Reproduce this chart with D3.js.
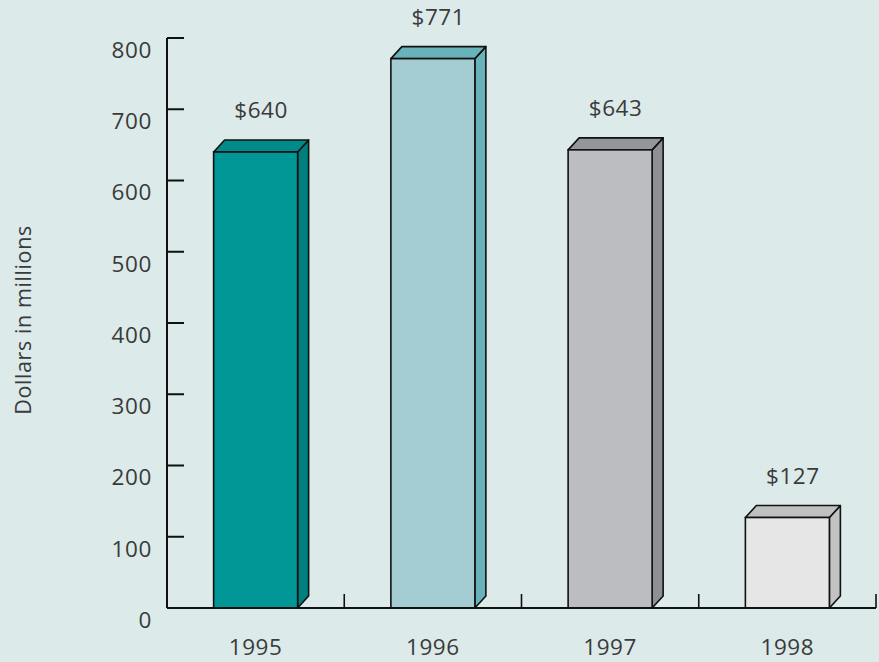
<!DOCTYPE html>
<html><head><meta charset="utf-8">
<script src="https://cdn.jsdelivr.net/npm/d3@7"></script>
<style>
html,body{margin:0;padding:0;background:#dceaea;}
svg{display:block;}
text{font-family:"Open Sans",sans-serif;fill:#3a3a3a;letter-spacing:0.6px;}
</style></head>
<body>
<svg id="chart" width="879" height="662"></svg>
<script>
const categories = ["1995","1996","1997","1998"];
const values = [640, 771, 643, 127];
const valueLabels = ["$640","$771","$643","$127"];
const yTicks = [0,100,200,300,400,500,600,700,800];
const frontColors = ["#009696","#a3cdd3","#bcbdc0","#e6e6e6"];
const topColors = ["#008a8a","#68b3b9","#95969a","#c0c0c0"];
const sideColors = ["#007f7f","#68b3b9","#8f9094","#c3c3c3"];
const yTitle = "Dollars in millions";

const svg = d3.select("#chart");
const x0 = 167, x1 = 876, yBase = 608, yTop = 38;
const x = d3.scaleBand().domain(categories).range([x0, x1]).paddingInner(0).paddingOuter(0);
const y = d3.scaleLinear().domain([0, 800]).range([yBase, yTop]);
const dx = 11, dy = 12, barW = 84;
const fs = 22.5;

// y axis
svg.append("line").attr("x1", x0).attr("x2", x0).attr("y1", y(800)).attr("y2", y(0))
  .attr("stroke", "#111").attr("stroke-width", 2);
svg.selectAll(".yt").data(yTicks).join("line")
  .attr("x1", x0).attr("x2", x0 + 17).attr("y1", d => y(d)).attr("y2", d => y(d))
  .attr("stroke", "#111").attr("stroke-width", 2);
svg.selectAll(".yl").data(yTicks).join("text")
  .attr("x", 152).attr("y", d => y(d) + 12).attr("dy", "0.35em")
  .attr("text-anchor", "end").attr("font-size", fs).text(d => d);

svg.append("text").attr("transform", "translate(31,320) rotate(-90)")
  .attr("text-anchor", "middle").attr("font-size", fs - 1).text(yTitle);

// bars
const g = svg.selectAll(".bar").data(categories).join("g");
g.each(function(c, i) {
  const gg = d3.select(this);
  const cx = x(c) + x.bandwidth() / 2;
  const l = cx - barW / 2, r = cx + barW / 2;
  const t = y(values[i]), b = y(0);
  gg.append("path").attr("d", `M${r},${b} L${r + dx},${b - dy} L${r + dx},${t - dy} L${r},${t} Z`)
    .attr("fill", sideColors[i]).attr("stroke", "#111").attr("stroke-width", 1.6).attr("stroke-linejoin", "round");
  gg.append("path").attr("d", `M${l},${t} L${l + dx},${t - dy} L${r + dx},${t - dy} L${r},${t} Z`)
    .attr("fill", topColors[i]).attr("stroke", "#111").attr("stroke-width", 1.6).attr("stroke-linejoin", "round");
  gg.append("rect").attr("x", l).attr("y", t).attr("width", barW).attr("height", b - t)
    .attr("fill", frontColors[i]).attr("stroke", "#111").attr("stroke-width", 1.6);
  gg.append("text").attr("x", cx + dx / 2).attr("y", t - 34)
    .attr("text-anchor", "middle").attr("font-size", fs).text(valueLabels[i]);
});

// x axis
svg.append("line").attr("x1", x0).attr("x2", x1).attr("y1", yBase).attr("y2", yBase)
  .attr("stroke", "#111").attr("stroke-width", 2);
svg.selectAll(".xt").data(categories).join("line")
  .attr("x1", d => x(d) + x.bandwidth()).attr("x2", d => x(d) + x.bandwidth())
  .attr("y1", yBase).attr("y2", yBase - 14)
  .attr("stroke", "#111").attr("stroke-width", 1.6);
svg.selectAll(".xl").data(categories).join("text")
  .attr("x", d => x(d) + x.bandwidth() / 2).attr("y", 655)
  .attr("text-anchor", "middle").attr("font-size", fs).text(d => d);
</script>
</body></html>
